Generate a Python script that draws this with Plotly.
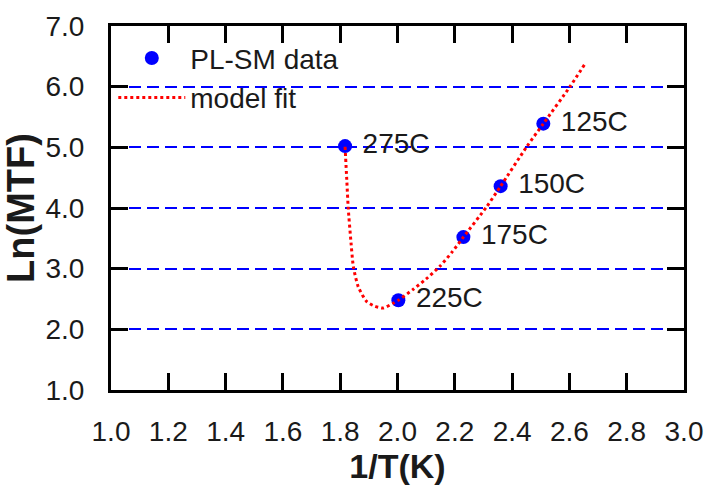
import plotly.graph_objects as go

# Measured data (PL-SM)
data_x = [1.817, 2.003, 2.230, 2.360, 2.509]
data_y = [5.02, 2.48, 3.52, 4.36, 5.39]
data_labels = ["275C", "225C", "175C", "150C", "125C"]

# Model fit curve
fit_x = [1.817, 1.823, 1.828, 1.837, 1.846, 1.863, 1.892, 1.921, 1.950, 1.985,
         2.003, 2.055, 2.100, 2.148, 2.190, 2.230, 2.311, 2.360, 2.451, 2.509,
         2.602, 2.655]
fit_y = [5.01, 4.46, 4.00, 3.47, 3.03, 2.70, 2.46, 2.38, 2.35, 2.43,
         2.48, 2.66, 2.83, 3.04, 3.27, 3.52, 4.02, 4.36, 5.01, 5.39,
         6.00, 6.38]

x_ticks = [1.0, 1.2, 1.4, 1.6, 1.8, 2.0, 2.2, 2.4, 2.6, 2.8, 3.0]
y_ticks = [1.0, 2.0, 3.0, 4.0, 5.0, 6.0, 7.0]

FONT = "Arial, Liberation Sans, sans-serif"
TXT = "#1a1a1a"

fig = go.Figure()
fig.add_trace(go.Scatter(
    x=data_x, y=data_y, mode="markers+text", name="PL-SM data",
    text=[" " + t for t in data_labels], textposition="middle right",
    textfont=dict(size=28, color=TXT, family=FONT),
    marker=dict(color="#0000FF", size=14),
))
fig.add_trace(go.Scatter(
    x=fit_x, y=fit_y, mode="lines", name="model fit",
    line=dict(color="#FF0000", width=3, dash="dot", shape="spline", smoothing=0.6),
))

axis_common = dict(
    showline=True, linecolor="black", linewidth=3, mirror="ticks",
    ticks="inside", ticklen=17, tickwidth=3, tickcolor="black",
    zeroline=False,
    tickfont=dict(size=28, color=TXT, family=FONT),
)

fig.update_xaxes(
    range=[1.0, 3.0], tickvals=x_ticks, ticktext=[f"{v:.1f}" for v in x_ticks],
    showgrid=False, ticklabelstandoff=14, automargin=False,
    title=dict(text="<b>1/T(K)</b>", font=dict(size=34, color=TXT, family=FONT)),
    **axis_common,
)
fig.update_yaxes(
    range=[1.0, 7.0], tickvals=y_ticks, ticktext=[f"{v:.1f}" for v in y_ticks],
    showgrid=True, gridcolor="#0000FF", gridwidth=2, griddash="12px,6px",
    ticklabelstandoff=18, automargin=True,
    title=dict(text="<b>Ln(MTF)</b>", font=dict(size=38, color=TXT, family=FONT), standoff=6),
    **axis_common,
)

fig.update_layout(
    width=704, height=485,
    margin=dict(l=111, r=20, t=26, b=95),
    paper_bgcolor="white", plot_bgcolor="white",
    showlegend=True,
    legend=dict(
        x=0.004, y=0.98, xanchor="left", yanchor="top",
        font=dict(size=28, color=TXT, family=FONT),
        bgcolor="rgba(0,0,0,0)", borderwidth=0,
        itemwidth=67,
    ),
)

fig.write_html("out.html", config={"displayModeBar": False},
               post_script="document.body.style.margin='0';")
